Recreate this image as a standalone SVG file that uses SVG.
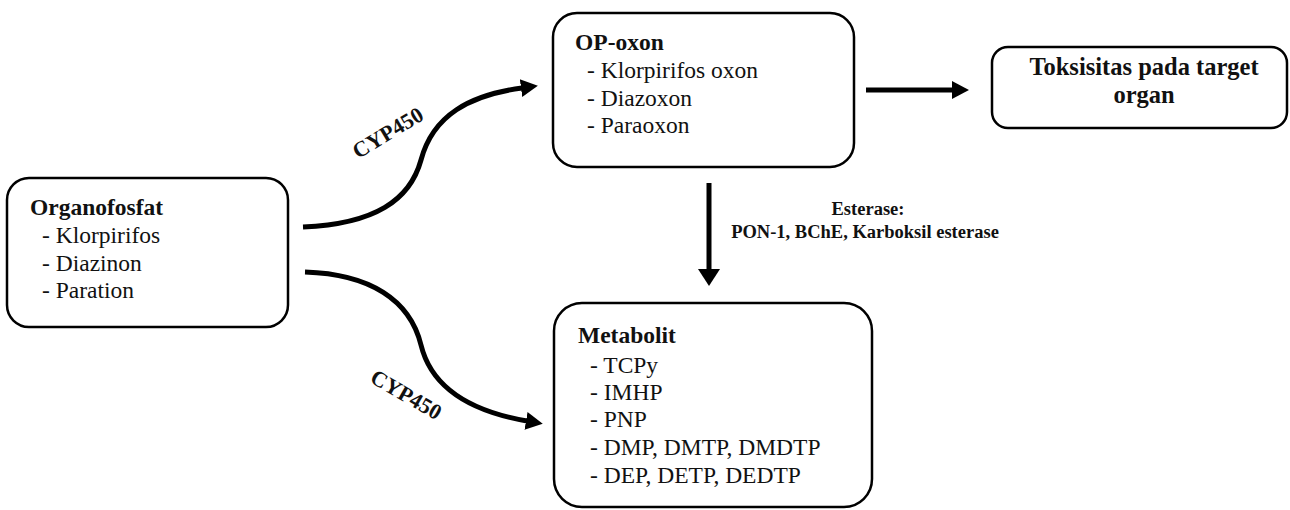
<svg xmlns="http://www.w3.org/2000/svg" width="1290" height="510" viewBox="0 0 1290 510">
<defs>
<marker id="ah" markerUnits="userSpaceOnUse" markerWidth="20" markerHeight="24" viewBox="0 -12 20 24" refX="1" refY="0" orient="auto">
<path d="M0,-9 L17,0 L0,9 z" fill="#000"/>
</marker>
<marker id="ahv" markerUnits="userSpaceOnUse" markerWidth="20" markerHeight="26" viewBox="0 -13 20 26" refX="1" refY="0" orient="auto">
<path d="M0,-11 L17,0 L0,11 z" fill="#000"/>
</marker>
</defs>
<rect width="1290" height="510" fill="#fff"/>
<g id="connectors">
<g fill="none" stroke="#000" stroke-width="5">
<path d="M303,227 C375,224 410,200 421,160 C433,115 470,95 522,88" marker-end="url(#ah)"/>
<path d="M305,272 C370,274 410,300 421,345 C432,390 475,412 527,421" marker-end="url(#ah)"/>
<path d="M866,90 L953,90" marker-end="url(#ah)"/>
<path d="M709,183 L709,270" marker-end="url(#ahv)"/>
</g>
<text font-family="Liberation Serif" font-weight="bold" fill="#111" font-size="22" text-anchor="middle" transform="translate(388,133) rotate(-31)" y="7">CYP450</text>
<text font-family="Liberation Serif" font-weight="bold" fill="#111" font-size="22" text-anchor="middle" transform="translate(406,395) rotate(30)" y="7">CYP450</text>
<text font-family="Liberation Serif" font-weight="bold" fill="#111" font-size="18.5" text-anchor="middle" x="868" y="215">Esterase:</text>
<text font-family="Liberation Serif" font-weight="bold" fill="#111" font-size="18.5" text-anchor="middle" x="865" y="238">PON-1, BChE, Karboksil esterase</text>
</g>
<g id="organofosfat">
<rect x="7" y="178" width="281" height="149" rx="22" fill="#fff" stroke="#000" stroke-width="2.5"/>
<text font-family="Liberation Serif" font-size="23.5" fill="#111" font-weight="bold" x="30" y="215">Organofosfat</text>
<text font-family="Liberation Serif" font-size="23.5" fill="#111" x="42" y="243">- Klorpirifos</text>
<text font-family="Liberation Serif" font-size="23.5" fill="#111" x="42" y="271">- Diazinon</text>
<text font-family="Liberation Serif" font-size="23.5" fill="#111" x="42" y="298">- Paration</text>
</g>
<g id="opoxon">
<rect x="553" y="13" width="301" height="154" rx="24" fill="#fff" stroke="#000" stroke-width="2.5"/>
<text font-family="Liberation Serif" font-size="23.5" fill="#111" font-weight="bold" x="575" y="50">OP-oxon</text>
<text font-family="Liberation Serif" font-size="23.5" fill="#111" x="587" y="78">- Klorpirifos oxon</text>
<text font-family="Liberation Serif" font-size="23.5" fill="#111" x="587" y="106">- Diazoxon</text>
<text font-family="Liberation Serif" font-size="23.5" fill="#111" x="587" y="133">- Paraoxon</text>
</g>
<g id="toksisitas">
<rect x="992" y="47" width="295" height="81" rx="16" fill="#fff" stroke="#000" stroke-width="2.5"/>
<text font-family="Liberation Serif" font-size="24.5" font-weight="bold" fill="#111" text-anchor="middle" x="1144" y="75">Toksisitas pada target</text>
<text font-family="Liberation Serif" font-size="24.5" font-weight="bold" fill="#111" text-anchor="middle" x="1144" y="103">organ</text>
</g>
<g id="metabolit">
<rect x="554" y="303" width="318" height="204" rx="28" fill="#fff" stroke="#000" stroke-width="2.5"/>
<text font-family="Liberation Serif" font-size="23.5" fill="#111" font-weight="bold" x="578" y="343">Metabolit</text>
<text font-family="Liberation Serif" font-size="23.5" fill="#111" x="590" y="373">- TCPy</text>
<text font-family="Liberation Serif" font-size="23.5" fill="#111" x="590" y="400">- IMHP</text>
<text font-family="Liberation Serif" font-size="23.5" fill="#111" x="590" y="427">- PNP</text>
<text font-family="Liberation Serif" font-size="23.5" fill="#111" x="590" y="455">- DMP, DMTP, DMDTP</text>
<text font-family="Liberation Serif" font-size="23.5" fill="#111" x="590" y="483">- DEP, DETP, DEDTP</text>
</g>
</svg>
